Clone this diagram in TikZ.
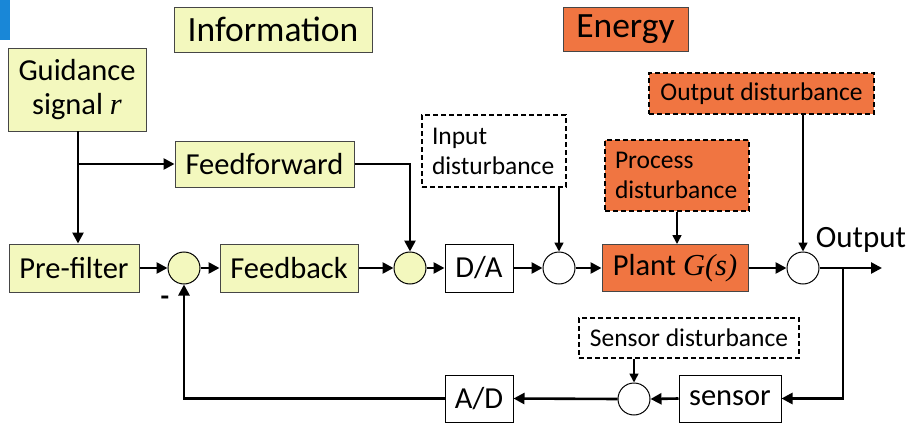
\documentclass[tikz,border=0pt]{standalone}
\usepackage{fontspec}
\setmainfont{Carlito}
\newfontfamily\tms{Liberation Serif}
\usetikzlibrary{arrows.meta,calc}
\definecolor{ylw}{RGB}{243,248,190}
\definecolor{org}{RGB}{240,117,65}
\definecolor{bluebar}{RGB}{25,135,215}
\definecolor{edge}{RGB}{70,70,70}
\tikzset{
  box/.style={draw=edge,line width=1pt,rectangle,inner sep=0pt,align=center,font=\fontsize{30.5}{34}\selectfont},
  yb/.style={box,fill=ylw},
  ob/.style={box,fill=org},
  wb/.style={box,fill=white,draw=black},
  dist/.style={draw=black,dashed,dash pattern=on 5pt off 3pt,line width=1.2pt,rectangle,inner sep=0pt,font=\fontsize{25.5}{30}\selectfont},
  sumc/.style={circle,draw=black,line width=1pt,minimum size=32pt,inner sep=0pt},
  mainar/.style={line width=2.6pt,-{Triangle[length=11pt,width=11pt]}},
  thinar/.style={line width=1.6pt,-{Triangle[length=9pt,width=9pt]}}
}
\begin{document}
\begin{tikzpicture}[x=1pt,y=-1pt]
\useasboundingbox (0,0) rectangle (911,423);
\fill[bluebar] (0,0) rectangle (10,40);
\node[yb,minimum width=198pt,minimum height=45pt,font=\fontsize{35.5}{40}\selectfont] (info) at (273,29.5) {Information};
\node[ob,minimum width=125pt,minimum height=44pt,font=\fontsize{35.5}{40}\selectfont] (energy) at (625.5,29) {Energy};
\node[yb,minimum width=138pt,minimum height=83pt] (guid) at (77,89.5) {Guidance\\signal {\tms\itshape r}};
\node[yb,minimum width=179pt,minimum height=46pt] (ff) at (264.5,164) {Feedforward};
\node[yb,minimum width=130pt,minimum height=48pt] (pre) at (74,268) {Pre-filter};
\node[sumc,fill=ylw] (s1) at (184,268) {};
\node[yb,minimum width=138pt,minimum height=48pt] (fb) at (289,268) {Feedback};
\node[sumc,fill=ylw] (s2) at (410,268) {};
\node[wb,minimum width=68pt,minimum height=48pt] (da) at (479,268) {D/A};
\node[sumc,fill=white] (s3) at (559,268) {};
\node[ob,minimum width=146pt,minimum height=47pt] (plant) at (675,268) {Plant {\tms\itshape G(s)}};
\node[sumc,fill=white] (s4) at (803,268) {};
\node[dist,minimum width=144pt,minimum height=72pt,align=left,text width=124pt] (indist) at (494,151) {Input\\disturbance};
\node[dist,fill=org,minimum width=144pt,minimum height=71pt,align=left,text width=124pt] (procdist) at (677,175.5) {Process\\disturbance};
\node[dist,fill=org,minimum width=225pt,minimum height=41pt] (outdist) at (761.5,93.5) {Output disturbance};
\node[dist,minimum width=220pt,minimum height=40pt] (sensdist) at (689,338) {Sensor disturbance};
\node[wb,minimum width=102pt,minimum height=47pt] (sensor) at (730,398.5) {sensor};
\node[sumc,fill=white] (s5) at (634,399) {};
\node[wb,minimum width=68pt,minimum height=47pt] (ad) at (479,398.5) {A/D};
\node[font=\fontsize{31}{35}\selectfont,inner sep=0pt] (outlbl) at (861,240) {Output};
\node[font=\fontsize{28}{32}\selectfont\bfseries,inner sep=0pt] (minus) at (165,301) {-};
\coordinate (gtop) at (78,131);
\coordinate (branch) at (78,164);
\coordinate (outend) at (882,268);
\coordinate (tap) at (843,268);
% forward path
\draw[mainar] (gtop) -- (gtop |- pre.north);
\draw[mainar] (branch) -- (ff.west);
\draw[mainar] (ff.east) -| (s2.north);
\draw[mainar] (pre.east) -- (s1.west);
\draw[mainar] (s1.east) -- (fb.west);
\draw[mainar] (fb.east) -- (s2.west);
\draw[mainar] (s2.east) -- (da.west);
\draw[mainar] (da.east) -- (s3.west);
\draw[mainar] (s3.east) -- (plant.west);
\draw[mainar] (plant.east) -- (s4.west);
\draw[mainar] (s4.east) -- (outend);
% feedback path
\draw[mainar] (tap) |- (sensor.east);
\draw[mainar] (sensor.west) -- (s5.east);
\draw[mainar] (s5.west) -- (ad.east);
\draw[mainar] (ad.west) -| (s1.south);
% disturbances
\draw[thinar] (s3 |- indist.south) -- (s3.north);
\draw[thinar] (procdist.south) -- (procdist.south |- plant.north);
\draw[thinar] (s4 |- outdist.south) -- (s4.north);
\draw[thinar] (s5 |- sensdist.south) -- (s5.north);
\end{tikzpicture}
\end{document}
